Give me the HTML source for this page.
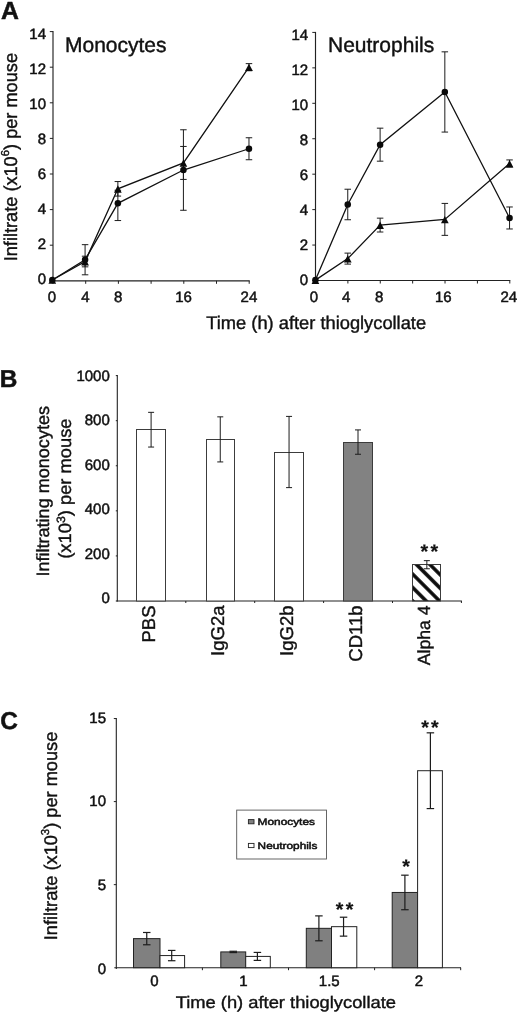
<!DOCTYPE html>
<html><head><meta charset="utf-8"><title>Figure</title>
<style>html,body{margin:0;padding:0;background:#fff}svg{display:block}text{font-family:"Liberation Sans",sans-serif;text-rendering:geometricPrecision}</style>
</head><body>
<svg width="520" height="1014" viewBox="0 0 520 1014">
<rect width="520" height="1014" fill="#fff"/>
<g opacity="0.999">
<line x1="53.00" y1="31.10" x2="53.00" y2="281.40" stroke="#222" stroke-width="1.15"/>
<line x1="52.50" y1="280.80" x2="249.70" y2="280.80" stroke="#222" stroke-width="1.15"/>
<line x1="49.80" y1="280.80" x2="53.00" y2="280.80" stroke="#222" stroke-width="1.0"/>
<text x="46.00" y="284.25" font-size="15" text-anchor="end" font-weight="normal" fill="#111" stroke="#111" stroke-width="0.5" >0</text>
<line x1="49.80" y1="245.20" x2="53.00" y2="245.20" stroke="#222" stroke-width="1.0"/>
<text x="46.00" y="249.19" font-size="15" text-anchor="end" font-weight="normal" fill="#111" stroke="#111" stroke-width="0.5" >2</text>
<line x1="49.80" y1="209.60" x2="53.00" y2="209.60" stroke="#222" stroke-width="1.0"/>
<text x="46.00" y="214.13" font-size="15" text-anchor="end" font-weight="normal" fill="#111" stroke="#111" stroke-width="0.5" >4</text>
<line x1="49.80" y1="174.00" x2="53.00" y2="174.00" stroke="#222" stroke-width="1.0"/>
<text x="46.00" y="179.07" font-size="15" text-anchor="end" font-weight="normal" fill="#111" stroke="#111" stroke-width="0.5" >6</text>
<line x1="49.80" y1="138.40" x2="53.00" y2="138.40" stroke="#222" stroke-width="1.0"/>
<text x="46.00" y="144.01" font-size="15" text-anchor="end" font-weight="normal" fill="#111" stroke="#111" stroke-width="0.5" >8</text>
<line x1="49.80" y1="102.80" x2="53.00" y2="102.80" stroke="#222" stroke-width="1.0"/>
<text x="46.00" y="108.95" font-size="15" text-anchor="end" font-weight="normal" fill="#111" stroke="#111" stroke-width="0.5" >10</text>
<line x1="49.80" y1="67.20" x2="53.00" y2="67.20" stroke="#222" stroke-width="1.0"/>
<text x="46.00" y="73.89" font-size="15" text-anchor="end" font-weight="normal" fill="#111" stroke="#111" stroke-width="0.5" >12</text>
<line x1="49.80" y1="31.60" x2="53.00" y2="31.60" stroke="#222" stroke-width="1.0"/>
<text x="46.00" y="38.83" font-size="15" text-anchor="end" font-weight="normal" fill="#111" stroke="#111" stroke-width="0.5" >14</text>
<line x1="53.00" y1="280.80" x2="53.00" y2="283.80" stroke="#222" stroke-width="1.0"/>
<line x1="85.70" y1="280.80" x2="85.70" y2="283.80" stroke="#222" stroke-width="1.0"/>
<line x1="118.40" y1="280.80" x2="118.40" y2="283.80" stroke="#222" stroke-width="1.0"/>
<line x1="151.10" y1="280.80" x2="151.10" y2="283.80" stroke="#222" stroke-width="1.0"/>
<line x1="183.80" y1="280.80" x2="183.80" y2="283.80" stroke="#222" stroke-width="1.0"/>
<line x1="216.50" y1="280.80" x2="216.50" y2="283.80" stroke="#222" stroke-width="1.0"/>
<line x1="249.20" y1="280.80" x2="249.20" y2="283.80" stroke="#222" stroke-width="1.0"/>
<text x="51.80" y="302.40" font-size="15" text-anchor="middle" font-weight="normal" fill="#111" stroke="#111" stroke-width="0.5" >0</text>
<text x="85.40" y="302.40" font-size="15" text-anchor="middle" font-weight="normal" fill="#111" stroke="#111" stroke-width="0.5" >4</text>
<text x="118.10" y="302.40" font-size="15" text-anchor="middle" font-weight="normal" fill="#111" stroke="#111" stroke-width="0.5" >8</text>
<text x="183.50" y="302.40" font-size="15" text-anchor="middle" font-weight="normal" fill="#111" stroke="#111" stroke-width="0.5" >16</text>
<text x="248.90" y="302.40" font-size="15" text-anchor="middle" font-weight="normal" fill="#111" stroke="#111" stroke-width="0.5" >24</text>
<text x="65.00" y="52.10" font-size="21" text-anchor="start" font-weight="normal" fill="#111" stroke="#111" stroke-width="0.4" >Monocytes</text>
<line x1="85.08" y1="256.19" x2="85.08" y2="266.83" stroke="#1c1c1c" stroke-width="1.0"/>
<line x1="81.83" y1="256.19" x2="88.33" y2="256.19" stroke="#1c1c1c" stroke-width="1.0"/>
<line x1="81.83" y1="266.83" x2="88.33" y2="266.83" stroke="#1c1c1c" stroke-width="1.0"/>
<line x1="117.86" y1="181.55" x2="117.86" y2="196.09" stroke="#1c1c1c" stroke-width="1.0"/>
<line x1="114.61" y1="181.55" x2="121.11" y2="181.55" stroke="#1c1c1c" stroke-width="1.0"/>
<line x1="114.61" y1="196.09" x2="121.11" y2="196.09" stroke="#1c1c1c" stroke-width="1.0"/>
<line x1="183.42" y1="146.44" x2="183.42" y2="179.42" stroke="#1c1c1c" stroke-width="1.0"/>
<line x1="180.17" y1="146.44" x2="186.67" y2="146.44" stroke="#1c1c1c" stroke-width="1.0"/>
<line x1="180.17" y1="179.42" x2="186.67" y2="179.42" stroke="#1c1c1c" stroke-width="1.0"/>
<line x1="248.98" y1="63.64" x2="248.98" y2="70.74" stroke="#1c1c1c" stroke-width="1.0"/>
<line x1="245.73" y1="63.64" x2="252.23" y2="63.64" stroke="#1c1c1c" stroke-width="1.0"/>
<line x1="245.73" y1="70.74" x2="252.23" y2="70.74" stroke="#1c1c1c" stroke-width="1.0"/>
<line x1="85.08" y1="244.67" x2="85.08" y2="274.81" stroke="#1c1c1c" stroke-width="1.0"/>
<line x1="81.83" y1="244.67" x2="88.33" y2="244.67" stroke="#1c1c1c" stroke-width="1.0"/>
<line x1="81.83" y1="274.81" x2="88.33" y2="274.81" stroke="#1c1c1c" stroke-width="1.0"/>
<line x1="117.86" y1="190.24" x2="117.86" y2="220.55" stroke="#1c1c1c" stroke-width="1.0"/>
<line x1="114.61" y1="190.24" x2="121.11" y2="190.24" stroke="#1c1c1c" stroke-width="1.0"/>
<line x1="114.61" y1="220.55" x2="121.11" y2="220.55" stroke="#1c1c1c" stroke-width="1.0"/>
<line x1="183.42" y1="129.78" x2="183.42" y2="210.27" stroke="#1c1c1c" stroke-width="1.0"/>
<line x1="180.17" y1="129.78" x2="186.67" y2="129.78" stroke="#1c1c1c" stroke-width="1.0"/>
<line x1="180.17" y1="210.27" x2="186.67" y2="210.27" stroke="#1c1c1c" stroke-width="1.0"/>
<line x1="248.98" y1="137.76" x2="248.98" y2="159.74" stroke="#1c1c1c" stroke-width="1.0"/>
<line x1="245.73" y1="137.76" x2="252.23" y2="137.76" stroke="#1c1c1c" stroke-width="1.0"/>
<line x1="245.73" y1="159.74" x2="252.23" y2="159.74" stroke="#1c1c1c" stroke-width="1.0"/>
<polyline points="52.30,279.95 85.08,261.51 117.86,188.82 183.42,162.93 248.98,67.19" fill="none" stroke="#111" stroke-width="1.3"/>
<polyline points="52.30,279.95 85.08,259.74 117.86,203.36 183.42,170.02 248.98,148.75" fill="none" stroke="#111" stroke-width="1.3"/>
<path d="M48.45 283.85L56.15 283.85L52.30 276.45Z" fill="#0a0a0a"/>
<path d="M81.23 265.41L88.93 265.41L85.08 258.01Z" fill="#0a0a0a"/>
<path d="M114.01 192.72L121.71 192.72L117.86 185.32Z" fill="#0a0a0a"/>
<path d="M179.57 166.83L187.27 166.83L183.42 159.43Z" fill="#0a0a0a"/>
<path d="M245.13 71.09L252.83 71.09L248.98 63.69Z" fill="#0a0a0a"/>
<circle cx="52.30" cy="279.95" r="3.25" fill="#0a0a0a"/>
<circle cx="85.08" cy="259.74" r="3.25" fill="#0a0a0a"/>
<circle cx="117.86" cy="203.36" r="3.25" fill="#0a0a0a"/>
<circle cx="183.42" cy="170.02" r="3.25" fill="#0a0a0a"/>
<circle cx="248.98" cy="148.75" r="3.25" fill="#0a0a0a"/>
<line x1="315.50" y1="31.92" x2="315.50" y2="281.10" stroke="#222" stroke-width="1.15"/>
<line x1="315.00" y1="280.50" x2="510.30" y2="280.50" stroke="#222" stroke-width="1.15"/>
<line x1="312.30" y1="280.50" x2="315.50" y2="280.50" stroke="#222" stroke-width="1.0"/>
<text x="308.20" y="285.05" font-size="15" text-anchor="end" font-weight="normal" fill="#111" stroke="#111" stroke-width="0.5" >0</text>
<line x1="312.30" y1="245.06" x2="315.50" y2="245.06" stroke="#222" stroke-width="1.0"/>
<text x="308.20" y="249.99" font-size="15" text-anchor="end" font-weight="normal" fill="#111" stroke="#111" stroke-width="0.5" >2</text>
<line x1="312.30" y1="209.62" x2="315.50" y2="209.62" stroke="#222" stroke-width="1.0"/>
<text x="308.20" y="214.93" font-size="15" text-anchor="end" font-weight="normal" fill="#111" stroke="#111" stroke-width="0.5" >4</text>
<line x1="312.30" y1="174.18" x2="315.50" y2="174.18" stroke="#222" stroke-width="1.0"/>
<text x="308.20" y="179.87" font-size="15" text-anchor="end" font-weight="normal" fill="#111" stroke="#111" stroke-width="0.5" >6</text>
<line x1="312.30" y1="138.74" x2="315.50" y2="138.74" stroke="#222" stroke-width="1.0"/>
<text x="308.20" y="144.81" font-size="15" text-anchor="end" font-weight="normal" fill="#111" stroke="#111" stroke-width="0.5" >8</text>
<line x1="312.30" y1="103.30" x2="315.50" y2="103.30" stroke="#222" stroke-width="1.0"/>
<text x="308.20" y="109.75" font-size="15" text-anchor="end" font-weight="normal" fill="#111" stroke="#111" stroke-width="0.5" >10</text>
<line x1="312.30" y1="67.86" x2="315.50" y2="67.86" stroke="#222" stroke-width="1.0"/>
<text x="308.20" y="74.69" font-size="15" text-anchor="end" font-weight="normal" fill="#111" stroke="#111" stroke-width="0.5" >12</text>
<line x1="312.30" y1="32.42" x2="315.50" y2="32.42" stroke="#222" stroke-width="1.0"/>
<text x="308.20" y="39.63" font-size="15" text-anchor="end" font-weight="normal" fill="#111" stroke="#111" stroke-width="0.5" >14</text>
<line x1="315.50" y1="280.50" x2="315.50" y2="283.50" stroke="#222" stroke-width="1.0"/>
<line x1="347.88" y1="280.50" x2="347.88" y2="283.50" stroke="#222" stroke-width="1.0"/>
<line x1="380.27" y1="280.50" x2="380.27" y2="283.50" stroke="#222" stroke-width="1.0"/>
<line x1="412.65" y1="280.50" x2="412.65" y2="283.50" stroke="#222" stroke-width="1.0"/>
<line x1="445.03" y1="280.50" x2="445.03" y2="283.50" stroke="#222" stroke-width="1.0"/>
<line x1="477.42" y1="280.50" x2="477.42" y2="283.50" stroke="#222" stroke-width="1.0"/>
<line x1="509.80" y1="280.50" x2="509.80" y2="283.50" stroke="#222" stroke-width="1.0"/>
<text x="313.90" y="302.40" font-size="15" text-anchor="middle" font-weight="normal" fill="#111" stroke="#111" stroke-width="0.5" >0</text>
<text x="346.28" y="302.40" font-size="15" text-anchor="middle" font-weight="normal" fill="#111" stroke="#111" stroke-width="0.5" >4</text>
<text x="379.27" y="302.40" font-size="15" text-anchor="middle" font-weight="normal" fill="#111" stroke="#111" stroke-width="0.5" >8</text>
<text x="443.33" y="302.40" font-size="15" text-anchor="middle" font-weight="normal" fill="#111" stroke="#111" stroke-width="0.5" >16</text>
<text x="508.80" y="302.40" font-size="15" text-anchor="middle" font-weight="normal" fill="#111" stroke="#111" stroke-width="0.5" >24</text>
<text x="328.00" y="52.00" font-size="21" text-anchor="start" font-weight="normal" fill="#111" stroke="#111" stroke-width="0.4" >Neutrophils</text>
<line x1="347.76" y1="253.12" x2="347.76" y2="264.12" stroke="#1c1c1c" stroke-width="1.0"/>
<line x1="344.51" y1="253.12" x2="351.01" y2="253.12" stroke="#1c1c1c" stroke-width="1.0"/>
<line x1="344.51" y1="264.12" x2="351.01" y2="264.12" stroke="#1c1c1c" stroke-width="1.0"/>
<line x1="380.12" y1="218.15" x2="380.12" y2="232.00" stroke="#1c1c1c" stroke-width="1.0"/>
<line x1="376.87" y1="218.15" x2="383.37" y2="218.15" stroke="#1c1c1c" stroke-width="1.0"/>
<line x1="376.87" y1="232.00" x2="383.37" y2="232.00" stroke="#1c1c1c" stroke-width="1.0"/>
<line x1="444.84" y1="203.42" x2="444.84" y2="235.37" stroke="#1c1c1c" stroke-width="1.0"/>
<line x1="441.59" y1="203.42" x2="448.09" y2="203.42" stroke="#1c1c1c" stroke-width="1.0"/>
<line x1="441.59" y1="235.37" x2="448.09" y2="235.37" stroke="#1c1c1c" stroke-width="1.0"/>
<line x1="509.56" y1="159.93" x2="509.56" y2="167.03" stroke="#1c1c1c" stroke-width="1.0"/>
<line x1="506.31" y1="159.93" x2="512.81" y2="159.93" stroke="#1c1c1c" stroke-width="1.0"/>
<line x1="506.31" y1="167.03" x2="512.81" y2="167.03" stroke="#1c1c1c" stroke-width="1.0"/>
<line x1="347.76" y1="189.22" x2="347.76" y2="219.75" stroke="#1c1c1c" stroke-width="1.0"/>
<line x1="344.51" y1="189.22" x2="351.01" y2="189.22" stroke="#1c1c1c" stroke-width="1.0"/>
<line x1="344.51" y1="219.75" x2="351.01" y2="219.75" stroke="#1c1c1c" stroke-width="1.0"/>
<line x1="380.12" y1="128.16" x2="380.12" y2="161.18" stroke="#1c1c1c" stroke-width="1.0"/>
<line x1="376.87" y1="128.16" x2="383.37" y2="128.16" stroke="#1c1c1c" stroke-width="1.0"/>
<line x1="376.87" y1="161.18" x2="383.37" y2="161.18" stroke="#1c1c1c" stroke-width="1.0"/>
<line x1="444.84" y1="51.84" x2="444.84" y2="132.07" stroke="#1c1c1c" stroke-width="1.0"/>
<line x1="441.59" y1="51.84" x2="448.09" y2="51.84" stroke="#1c1c1c" stroke-width="1.0"/>
<line x1="441.59" y1="132.07" x2="448.09" y2="132.07" stroke="#1c1c1c" stroke-width="1.0"/>
<line x1="509.56" y1="206.97" x2="509.56" y2="228.98" stroke="#1c1c1c" stroke-width="1.0"/>
<line x1="506.31" y1="206.97" x2="512.81" y2="206.97" stroke="#1c1c1c" stroke-width="1.0"/>
<line x1="506.31" y1="228.98" x2="512.81" y2="228.98" stroke="#1c1c1c" stroke-width="1.0"/>
<polyline points="315.40,280.10 347.76,258.62 380.12,225.08 444.84,219.40 509.56,163.48" fill="none" stroke="#111" stroke-width="1.3"/>
<polyline points="315.40,280.10 347.76,204.49 380.12,144.67 444.84,91.95 509.56,217.98" fill="none" stroke="#111" stroke-width="1.3"/>
<path d="M311.55 284.00L319.25 284.00L315.40 276.60Z" fill="#0a0a0a"/>
<path d="M343.91 262.52L351.61 262.52L347.76 255.12Z" fill="#0a0a0a"/>
<path d="M376.27 228.97L383.97 228.97L380.12 221.58Z" fill="#0a0a0a"/>
<path d="M440.99 223.30L448.69 223.30L444.84 215.90Z" fill="#0a0a0a"/>
<path d="M505.71 167.38L513.41 167.38L509.56 159.98Z" fill="#0a0a0a"/>
<circle cx="315.40" cy="280.10" r="3.25" fill="#0a0a0a"/>
<circle cx="347.76" cy="204.49" r="3.25" fill="#0a0a0a"/>
<circle cx="380.12" cy="144.67" r="3.25" fill="#0a0a0a"/>
<circle cx="444.84" cy="91.95" r="3.25" fill="#0a0a0a"/>
<circle cx="509.56" cy="217.98" r="3.25" fill="#0a0a0a"/>
<text x="1.00" y="19.00" font-size="24.8" text-anchor="start" font-weight="bold" fill="#111" stroke="#111" stroke-width="0.5" >A</text>
<text x="17.20" y="261.30" font-size="18.5" text-anchor="start" font-weight="normal" fill="#111" stroke="#111" stroke-width="0.4" textLength="208.3" lengthAdjust="spacingAndGlyphs" transform="rotate(-90 17.20 261.30)" >Infiltrate (x10<tspan font-size="11.5" dy="-8">6</tspan><tspan dy="8">) per mouse</tspan></text>
<text x="206.30" y="329.30" font-size="18.3" text-anchor="start" font-weight="normal" fill="#111" stroke="#111" stroke-width="0.4" >Time (h) after thioglycollate</text>
<line x1="117.30" y1="375.10" x2="117.30" y2="601.50" stroke="#222" stroke-width="1.1"/>
<line x1="116.80" y1="601.00" x2="461.90" y2="601.00" stroke="#222" stroke-width="1.2"/>
<line x1="115.80" y1="601.00" x2="117.30" y2="601.00" stroke="#222" stroke-width="1.0"/>
<text x="109.80" y="603.05" font-size="15" text-anchor="end" font-weight="normal" fill="#111" stroke="#111" stroke-width="0.5" >0</text>
<line x1="115.80" y1="555.92" x2="117.30" y2="555.92" stroke="#222" stroke-width="1.0"/>
<text x="109.80" y="558.61" font-size="15" text-anchor="end" font-weight="normal" fill="#111" stroke="#111" stroke-width="0.5" >200</text>
<line x1="115.80" y1="510.84" x2="117.30" y2="510.84" stroke="#222" stroke-width="1.0"/>
<text x="109.80" y="514.17" font-size="15" text-anchor="end" font-weight="normal" fill="#111" stroke="#111" stroke-width="0.5" >400</text>
<line x1="115.80" y1="465.76" x2="117.30" y2="465.76" stroke="#222" stroke-width="1.0"/>
<text x="109.80" y="469.73" font-size="15" text-anchor="end" font-weight="normal" fill="#111" stroke="#111" stroke-width="0.5" >600</text>
<line x1="115.80" y1="420.68" x2="117.30" y2="420.68" stroke="#222" stroke-width="1.0"/>
<text x="109.80" y="425.29" font-size="15" text-anchor="end" font-weight="normal" fill="#111" stroke="#111" stroke-width="0.5" >800</text>
<line x1="115.80" y1="375.60" x2="117.30" y2="375.60" stroke="#222" stroke-width="1.0"/>
<text x="109.80" y="380.85" font-size="15" text-anchor="end" font-weight="normal" fill="#111" stroke="#111" stroke-width="0.5" >1000</text>
<line x1="185.80" y1="601.00" x2="185.80" y2="603.00" stroke="#222" stroke-width="1.0"/>
<line x1="254.70" y1="601.00" x2="254.70" y2="603.00" stroke="#222" stroke-width="1.0"/>
<line x1="323.60" y1="601.00" x2="323.60" y2="603.00" stroke="#222" stroke-width="1.0"/>
<line x1="392.50" y1="601.00" x2="392.50" y2="603.00" stroke="#222" stroke-width="1.0"/>
<line x1="461.40" y1="601.00" x2="461.40" y2="603.00" stroke="#222" stroke-width="1.0"/>
<defs><pattern id="hatch" patternUnits="userSpaceOnUse" width="9.5" height="9.5" patternTransform="translate(416.9 564.9) rotate(45)"><rect x="0" y="-1.75" width="9.5" height="3.5" fill="#0a0a0a"/><rect x="0" y="7.75" width="9.5" height="3.5" fill="#0a0a0a"/></pattern></defs>
<rect x="136.5" y="429.5" width="29.0" height="171.50" fill="#fff" stroke="#3c3c3c" stroke-width="1"/>
<line x1="151.10" y1="412.34" x2="151.10" y2="447.05" stroke="#1c1c1c" stroke-width="1.0"/>
<line x1="148.10" y1="412.34" x2="154.10" y2="412.34" stroke="#1c1c1c" stroke-width="1.0"/>
<line x1="148.10" y1="447.05" x2="154.10" y2="447.05" stroke="#1c1c1c" stroke-width="1.0"/>
<text x="154.70" y="605.50" font-size="18.5" text-anchor="end" font-weight="normal" fill="#111" stroke="#111" stroke-width="0.4" transform="rotate(-90 154.70 605.50)" >PBS</text>
<rect x="206.5" y="439.5" width="28.0" height="161.50" fill="#fff" stroke="#3c3c3c" stroke-width="1"/>
<line x1="220.25" y1="416.85" x2="220.25" y2="461.93" stroke="#1c1c1c" stroke-width="1.0"/>
<line x1="217.25" y1="416.85" x2="223.25" y2="416.85" stroke="#1c1c1c" stroke-width="1.0"/>
<line x1="217.25" y1="461.93" x2="223.25" y2="461.93" stroke="#1c1c1c" stroke-width="1.0"/>
<text x="223.85" y="605.50" font-size="18.5" text-anchor="end" font-weight="normal" fill="#111" stroke="#111" stroke-width="0.4" transform="rotate(-90 223.85 605.50)" >IgG2a</text>
<rect x="274.5" y="452.5" width="29.0" height="148.50" fill="#fff" stroke="#3c3c3c" stroke-width="1"/>
<line x1="289.05" y1="416.40" x2="289.05" y2="487.62" stroke="#1c1c1c" stroke-width="1.0"/>
<line x1="286.05" y1="416.40" x2="292.05" y2="416.40" stroke="#1c1c1c" stroke-width="1.0"/>
<line x1="286.05" y1="487.62" x2="292.05" y2="487.62" stroke="#1c1c1c" stroke-width="1.0"/>
<text x="292.65" y="605.50" font-size="18.5" text-anchor="end" font-weight="normal" fill="#111" stroke="#111" stroke-width="0.4" transform="rotate(-90 292.65 605.50)" >IgG2b</text>
<rect x="343.5" y="442.5" width="29.0" height="158.50" fill="#828282" stroke="#3c3c3c" stroke-width="1"/>
<line x1="358.00" y1="429.92" x2="358.00" y2="454.26" stroke="#1c1c1c" stroke-width="1.0"/>
<line x1="355.00" y1="429.92" x2="361.00" y2="429.92" stroke="#1c1c1c" stroke-width="1.0"/>
<line x1="355.00" y1="454.26" x2="361.00" y2="454.26" stroke="#1c1c1c" stroke-width="1.0"/>
<text x="361.80" y="605.50" font-size="18.5" text-anchor="end" font-weight="normal" fill="#111" stroke="#111" stroke-width="0.4" transform="rotate(-90 361.80 605.50)" >CD11b</text>
<rect x="412.5" y="564.5" width="28.0" height="36.50" fill="url(#hatch)" stroke="#3c3c3c" stroke-width="1"/>
<line x1="426.85" y1="560.65" x2="426.85" y2="568.77" stroke="#1c1c1c" stroke-width="1.0"/>
<line x1="423.85" y1="560.65" x2="429.85" y2="560.65" stroke="#1c1c1c" stroke-width="1.0"/>
<line x1="423.85" y1="568.77" x2="429.85" y2="568.77" stroke="#1c1c1c" stroke-width="1.0"/>
<text x="430.45" y="605.50" font-size="17.6" text-anchor="end" font-weight="normal" fill="#111" stroke="#111" stroke-width="0.4" transform="rotate(-90 430.45 605.50)" >Alpha 4</text>
<text x="-0.30" y="386.80" font-size="24.4" text-anchor="start" font-weight="bold" fill="#111" stroke="#111" stroke-width="0.5" >B</text>
<text x="430.40" y="557.70" font-size="19.6" text-anchor="middle" font-weight="bold" fill="#111" stroke="#111" stroke-width="0.2" letter-spacing="2.2">**</text>
<text x="49.30" y="491.30" font-size="17.8" text-anchor="middle" font-weight="normal" fill="#111" stroke="#111" stroke-width="0.4" textLength="170.6" lengthAdjust="spacingAndGlyphs" transform="rotate(-90 49.30 491.30)" >Infiltrating monocytes</text>
<text x="71.40" y="488.60" font-size="17.8" text-anchor="middle" font-weight="normal" fill="#111" stroke="#111" stroke-width="0.4" textLength="140.3" lengthAdjust="spacingAndGlyphs" transform="rotate(-90 71.40 488.60)" >(x10<tspan font-size="12" dy="-6.5">3</tspan><tspan dy="6.5">) per mouse</tspan></text>
<line x1="116.30" y1="718.05" x2="116.30" y2="968.90" stroke="#222" stroke-width="1.1"/>
<line x1="114.30" y1="967.70" x2="461.00" y2="967.70" stroke="#222" stroke-width="1.1"/>
<line x1="113.80" y1="884.65" x2="116.30" y2="884.65" stroke="#222" stroke-width="1.0"/>
<line x1="113.80" y1="801.60" x2="116.30" y2="801.60" stroke="#222" stroke-width="1.0"/>
<line x1="113.80" y1="718.55" x2="116.30" y2="718.55" stroke="#222" stroke-width="1.0"/>
<text x="106.00" y="973.95" font-size="15" text-anchor="end" font-weight="normal" fill="#111" stroke="#111" stroke-width="0.5" >0</text>
<text x="106.00" y="890.20" font-size="15" text-anchor="end" font-weight="normal" fill="#111" stroke="#111" stroke-width="0.5" >5</text>
<text x="106.00" y="806.45" font-size="15" text-anchor="end" font-weight="normal" fill="#111" stroke="#111" stroke-width="0.5" >10</text>
<text x="106.00" y="722.70" font-size="15" text-anchor="end" font-weight="normal" fill="#111" stroke="#111" stroke-width="0.5" >15</text>
<line x1="202.40" y1="967.70" x2="202.40" y2="970.20" stroke="#222" stroke-width="1.0"/>
<line x1="288.50" y1="967.70" x2="288.50" y2="970.20" stroke="#222" stroke-width="1.0"/>
<line x1="374.60" y1="967.70" x2="374.60" y2="970.20" stroke="#222" stroke-width="1.0"/>
<line x1="460.70" y1="967.70" x2="460.70" y2="970.20" stroke="#222" stroke-width="1.0"/>
<rect x="133.5" y="938.63" width="26.50" height="29.07" fill="#808080" stroke="#222" stroke-width="1"/>
<rect x="160" y="955.57" width="24.60" height="12.13" fill="#fff" stroke="#222" stroke-width="1"/>
<line x1="146.75" y1="932.49" x2="146.75" y2="944.78" stroke="#1c1c1c" stroke-width="1.2"/>
<line x1="143.00" y1="932.49" x2="150.50" y2="932.49" stroke="#1c1c1c" stroke-width="1.2"/>
<line x1="143.00" y1="944.78" x2="150.50" y2="944.78" stroke="#1c1c1c" stroke-width="1.2"/>
<line x1="171.70" y1="950.43" x2="171.70" y2="960.72" stroke="#1c1c1c" stroke-width="1.2"/>
<line x1="167.95" y1="950.43" x2="175.45" y2="950.43" stroke="#1c1c1c" stroke-width="1.2"/>
<line x1="167.95" y1="960.72" x2="175.45" y2="960.72" stroke="#1c1c1c" stroke-width="1.2"/>
<rect x="220.8" y="951.92" width="24.90" height="15.78" fill="#808080" stroke="#222" stroke-width="1"/>
<rect x="245.7" y="956.41" width="24.60" height="11.29" fill="#fff" stroke="#222" stroke-width="1"/>
<line x1="233.25" y1="951.26" x2="233.25" y2="952.58" stroke="#1c1c1c" stroke-width="1.2"/>
<line x1="229.50" y1="951.26" x2="237.00" y2="951.26" stroke="#1c1c1c" stroke-width="1.2"/>
<line x1="229.50" y1="952.58" x2="237.00" y2="952.58" stroke="#1c1c1c" stroke-width="1.2"/>
<line x1="257.40" y1="952.42" x2="257.40" y2="960.39" stroke="#1c1c1c" stroke-width="1.2"/>
<line x1="253.65" y1="952.42" x2="261.15" y2="952.42" stroke="#1c1c1c" stroke-width="1.2"/>
<line x1="253.65" y1="960.39" x2="261.15" y2="960.39" stroke="#1c1c1c" stroke-width="1.2"/>
<rect x="306.3" y="928.33" width="25.20" height="39.37" fill="#808080" stroke="#222" stroke-width="1"/>
<rect x="331.5" y="926.67" width="25.30" height="41.03" fill="#fff" stroke="#222" stroke-width="1"/>
<line x1="318.90" y1="915.88" x2="318.90" y2="940.79" stroke="#1c1c1c" stroke-width="1.2"/>
<line x1="315.15" y1="915.88" x2="322.65" y2="915.88" stroke="#1c1c1c" stroke-width="1.2"/>
<line x1="315.15" y1="940.79" x2="322.65" y2="940.79" stroke="#1c1c1c" stroke-width="1.2"/>
<line x1="343.55" y1="917.21" x2="343.55" y2="936.14" stroke="#1c1c1c" stroke-width="1.2"/>
<line x1="339.80" y1="917.21" x2="347.30" y2="917.21" stroke="#1c1c1c" stroke-width="1.2"/>
<line x1="339.80" y1="936.14" x2="347.30" y2="936.14" stroke="#1c1c1c" stroke-width="1.2"/>
<rect x="392.2" y="892.46" width="25.40" height="75.24" fill="#808080" stroke="#222" stroke-width="1"/>
<rect x="417.6" y="770.71" width="24.80" height="196.99" fill="#fff" stroke="#222" stroke-width="1"/>
<line x1="404.90" y1="875.18" x2="404.90" y2="909.73" stroke="#1c1c1c" stroke-width="1.2"/>
<line x1="401.15" y1="875.18" x2="408.65" y2="875.18" stroke="#1c1c1c" stroke-width="1.2"/>
<line x1="401.15" y1="909.73" x2="408.65" y2="909.73" stroke="#1c1c1c" stroke-width="1.2"/>
<line x1="430.40" y1="732.83" x2="430.40" y2="808.58" stroke="#1c1c1c" stroke-width="1.2"/>
<line x1="426.65" y1="732.83" x2="434.15" y2="732.83" stroke="#1c1c1c" stroke-width="1.2"/>
<line x1="426.65" y1="808.58" x2="434.15" y2="808.58" stroke="#1c1c1c" stroke-width="1.2"/>
<text x="154.40" y="985.60" font-size="15" text-anchor="middle" font-weight="normal" fill="#111" stroke="#111" stroke-width="0.5" >0</text>
<text x="243.30" y="985.60" font-size="15" text-anchor="middle" font-weight="normal" fill="#111" stroke="#111" stroke-width="0.5" >1</text>
<text x="329.30" y="985.60" font-size="15" text-anchor="middle" font-weight="normal" fill="#111" stroke="#111" stroke-width="0.5" >1.5</text>
<text x="419.00" y="985.60" font-size="15" text-anchor="middle" font-weight="normal" fill="#111" stroke="#111" stroke-width="0.5" >2</text>
<text x="0.30" y="729.10" font-size="24.4" text-anchor="start" font-weight="bold" fill="#111" stroke="#111" stroke-width="0.5" >C</text>
<text x="175.70" y="1007.90" font-size="16.8" text-anchor="start" font-weight="normal" fill="#111" stroke="#111" stroke-width="0.4" textLength="220.3" lengthAdjust="spacingAndGlyphs" >Time (h) after thioglycollate</text>
<text x="57.20" y="836.00" font-size="18.3" text-anchor="middle" font-weight="normal" fill="#111" stroke="#111" stroke-width="0.4" textLength="208.6" lengthAdjust="spacingAndGlyphs" transform="rotate(-90 57.20 836.00)" >Infiltrate (x10<tspan font-size="11.5" dy="-8">3</tspan><tspan dy="8">) per mouse</tspan></text>
<rect x="236.7" y="810.1" width="89.8" height="48.9" fill="#fff" stroke="#555" stroke-width="0.9"/>
<rect x="248.4" y="819.6" width="5.6" height="4.2" fill="#808080" stroke="#222" stroke-width="0.9"/>
<rect x="248.4" y="843.4" width="5.6" height="4.2" fill="#fff" stroke="#222" stroke-width="0.9"/>
<text x="257.60" y="825.00" font-size="9.6" text-anchor="start" font-weight="normal" fill="#111" stroke="#111" stroke-width="0.5" textLength="57.3" lengthAdjust="spacingAndGlyphs" >Monocytes</text>
<text x="257.60" y="848.50" font-size="9.6" text-anchor="start" font-weight="normal" fill="#111" stroke="#111" stroke-width="0.5" textLength="59.8" lengthAdjust="spacingAndGlyphs" >Neutrophils</text>
<text x="345.70" y="916.40" font-size="19.6" text-anchor="middle" font-weight="bold" fill="#111" stroke="#111" stroke-width="0.2" letter-spacing="2.2">**</text>
<text x="431.00" y="733.80" font-size="19.6" text-anchor="middle" font-weight="bold" fill="#111" stroke="#111" stroke-width="0.2" letter-spacing="2.2">**</text>
<text x="406.10" y="873.40" font-size="19.6" text-anchor="middle" font-weight="bold" fill="#111" stroke="#111" stroke-width="0.2" >*</text>
</g>
</svg>
</body></html>
